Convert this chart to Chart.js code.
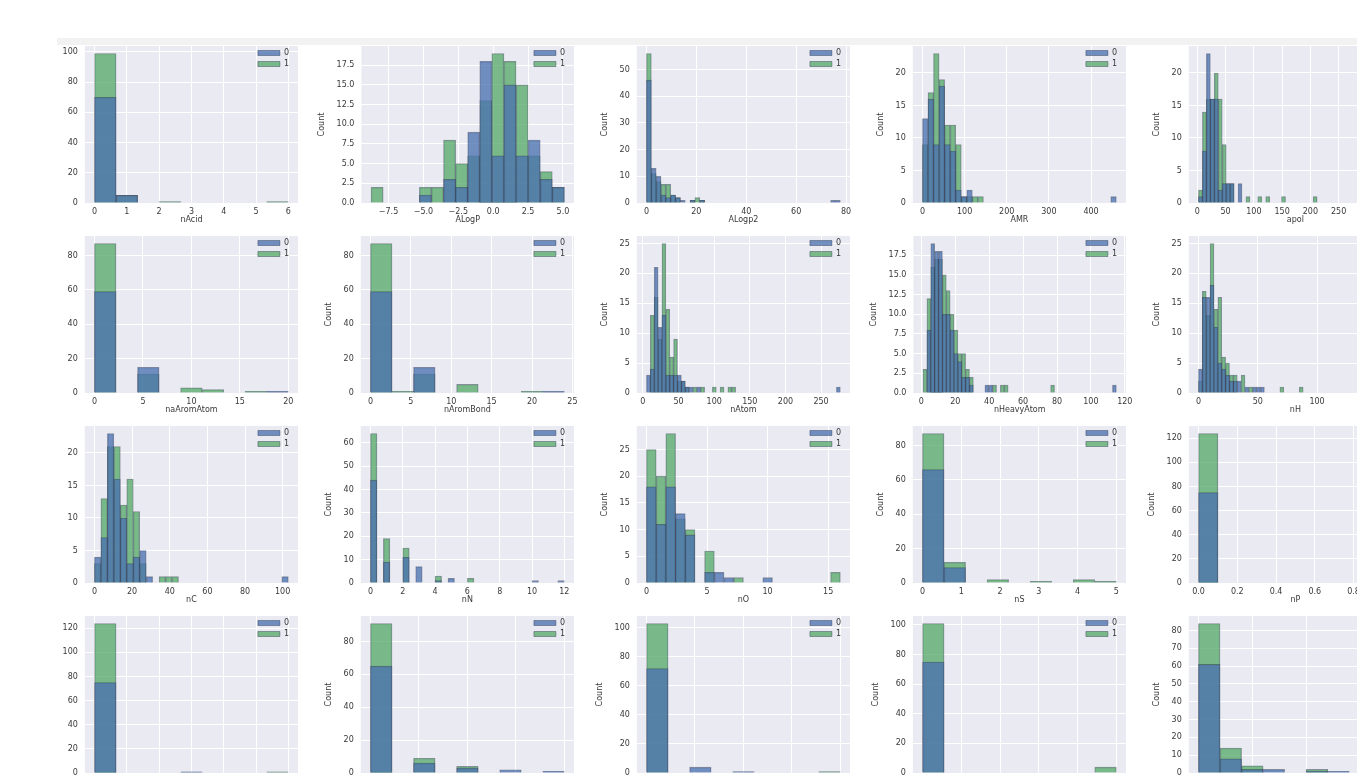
<!DOCTYPE html>
<html>
<head>
<meta charset="utf-8">
<script src="https://cdn.jsdelivr.net/npm/chart.js@4.4.1/dist/chart.umd.min.js"></script>
<style>
  html, body { margin: 0; padding: 0; background: #fff; width: 1357px; height: 775px; overflow: hidden; }
  #strip { position: absolute; left: 57px; top: 38px; width: 1300px; height: 7px; background: #f2f2f2; }
  #fig { position: absolute; left: 57px; top: 0; width: 1300px; height: 775px; overflow: hidden; }
  #fig canvas { position: absolute; }
</style>
</head>
<body>
<div id="strip"></div>
<div id="fig"></div>
<script>
// histogram bins: [first edge, last edge]; counts per bin for class 0 and class 1
const nAcidBins = [0, 6];
const nAcid0 = [70, 5, 0, 0, 0, 0, 0, 0, 0];
const nAcid1 = [99, 5, 0, 1, 0, 0, 0, 0, 1];

const ALogPBins = [-8.75, 5.1];
const ALogP0 = [0, 0, 0, 0, 1, 0, 3, 2, 9, 18, 6, 15, 6, 8, 3, 2];
const ALogP1 = [2, 0, 0, 0, 2, 2, 8, 5, 6, 13, 19, 18, 15, 6, 4, 2];

const ALogp2Bins = [0, 77.7];
const ALogp20 = [46, 13, 10, 3, 2, 3, 2, 1, 0, 1, 0, 1, 0, 0, 0, 0, 0, 0, 0, 0, 0, 0, 0, 0, 0, 0, 0, 0, 0, 0, 0, 0, 0, 0, 0, 0, 0, 0, 1, 1];
const ALogp21 = [56, 11, 8, 7, 7, 3, 2, 0, 0, 1, 2, 1, 0, 0, 0, 0, 0, 0, 0, 0, 0, 0, 0, 0, 0, 0, 0, 0, 0, 0, 0, 0, 0, 0, 0, 0, 0, 0, 0, 0];

const AMRBins = [0, 460];
const AMR0 = [13, 16, 9, 18, 9, 8, 2, 1, 2, 0, 0, 0, 0, 0, 0, 0, 0, 0, 0, 0, 0, 0, 0, 0, 0, 0, 0, 0, 0, 0, 0, 0, 0, 0, 1];
const AMR1 = [9, 17, 23, 19, 12, 12, 9, 1, 1, 1, 1, 0, 0, 0, 0, 0, 0, 0, 0, 0, 0, 0, 0, 0, 0, 0, 0, 0, 0, 0, 0, 0, 0, 0, 0];

const apolBins = [2, 345];
const apol0 = [1, 8, 23, 16, 16, 2, 3, 3, 3, 0, 3, 0, 0, 0, 0, 0, 0, 0, 0, 0, 0, 0, 0, 0, 0, 0, 0, 0, 0, 0, 0, 0, 0, 0, 0, 0, 0, 0, 0, 0, 0, 0, 0, 0, 0, 0, 0, 0, 1];
const apol1 = [2, 14, 16, 16, 20, 16, 9, 3, 3, 0, 0, 0, 1, 0, 0, 1, 0, 1, 0, 0, 0, 1, 0, 0, 0, 0, 0, 0, 0, 1, 0, 0, 0, 0, 0, 0, 0, 0, 0, 0, 0, 0, 0, 0, 0, 0, 0, 0, 0];

const naAromAtomBins = [0, 20];
const naAromAtom0 = [59, 0, 15, 0, 0, 0, 0, 0, 1];
const naAromAtom1 = [87, 0, 11, 0, 3, 2, 0, 1, 0];

const nAromBondBins = [0, 24];
const nAromBond0 = [59, 0, 15, 0, 0, 0, 0, 0, 1];
const nAromBond1 = [87, 1, 11, 0, 5, 0, 0, 1, 0];

const nAtomBins = [5, 277];
const nAtom0 = [3, 4, 21, 11, 13, 3, 3, 3, 3, 2, 1, 1, 0, 1, 0, 0, 0, 0, 0, 0, 0, 0, 0, 0, 0, 0, 0, 0, 0, 0, 0, 0, 0, 0, 0, 0, 0, 0, 0, 0, 0, 0, 0, 0, 0, 0, 0, 0, 0, 1];
const nAtom1 = [0, 13, 16, 9, 25, 14, 6, 9, 2, 2, 1, 0, 1, 0, 1, 0, 0, 1, 0, 1, 0, 1, 1, 0, 0, 0, 0, 0, 0, 0, 0, 0, 0, 0, 0, 0, 0, 0, 0, 0, 0, 0, 0, 0, 0, 0, 0, 0, 0, 0];

const nHeavyAtomBins = [1, 115];
const nHeavyAtom0 = [0, 8, 19, 18, 18, 10, 10, 8, 5, 4, 2, 2, 1, 0, 0, 0, 1, 1, 0, 0, 0, 0, 0, 0, 0, 0, 0, 0, 0, 0, 0, 0, 0, 0, 0, 0, 0, 0, 0, 0, 0, 0, 0, 0, 0, 0, 0, 0, 0, 1];
const nHeavyAtom1 = [3, 12, 16, 17, 17, 15, 13, 10, 8, 5, 5, 3, 2, 0, 0, 0, 0, 0, 1, 0, 1, 1, 0, 0, 0, 0, 0, 0, 0, 0, 0, 0, 0, 1, 0, 0, 0, 0, 0, 0, 0, 0, 0, 0, 0, 0, 0, 0, 0, 0];

const nHBins = [0, 163.5];
const nH0 = [4, 16, 16, 18, 11, 5, 4, 3, 2, 2, 2, 0, 1, 0, 1, 1, 1, 0, 0, 0, 0, 0, 0, 0, 0, 0, 0, 0, 0, 0, 0, 0, 0, 0, 0, 0, 0, 0, 0, 0, 0, 0, 0, 0, 0, 0, 0, 0, 0, 1];
const nH1 = [2, 17, 13, 25, 14, 16, 6, 5, 3, 3, 0, 3, 0, 1, 0, 0, 0, 0, 0, 0, 0, 1, 0, 0, 0, 0, 1, 0, 0, 0, 0, 0, 0, 0, 0, 0, 0, 0, 0, 0, 0, 0, 0, 0, 0, 0, 0, 0, 0, 0];

const nCBins = [0, 103];
const nC0 = [4, 7, 23, 16, 10, 3, 4, 5, 1, 0, 0, 0, 0, 0, 0, 0, 0, 0, 0, 0, 0, 0, 0, 0, 0, 0, 0, 0, 0, 1];
const nC1 = [3, 13, 21, 21, 12, 16, 11, 3, 0, 0, 1, 1, 1, 0, 0, 0, 0, 0, 0, 0, 0, 0, 0, 0, 0, 0, 0, 0, 0, 0];

const nNBins = [0, 12];
const nN0 = [44, 0, 9, 0, 0, 11, 0, 7, 0, 0, 1, 0, 2, 0, 0, 0, 0, 0, 0, 0, 0, 0, 0, 0, 0, 1, 0, 0, 0, 1];
const nN1 = [64, 0, 19, 0, 0, 15, 0, 0, 0, 0, 3, 0, 0, 0, 0, 2, 0, 0, 0, 0, 0, 0, 0, 0, 0, 0, 0, 0, 0, 0];

const nOBins = [0, 16];
const nO0 = [18, 11, 18, 13, 9, 0, 2, 2, 1, 0, 0, 0, 1, 0, 0, 0, 0, 0, 0, 0];
const nO1 = [25, 20, 28, 12, 10, 0, 6, 0, 0, 1, 0, 0, 0, 0, 0, 0, 0, 0, 0, 2];

const nSBins = [0, 5];
const nS0 = [66, 9, 0, 0, 0, 0, 0, 0, 0];
const nS1 = [87, 12, 0, 2, 0, 1, 0, 2, 1];

const nPBins = [0, 1];
const nP0 = [75, 0, 0, 0, 0, 0, 0, 0, 0, 0];
const nP1 = [124, 0, 0, 0, 0, 0, 0, 0, 0, 0];

// bottom row (axis names are below the visible area)
const r4aBins = [0, 6];
const r4a0 = [75, 0, 0, 0, 1, 0, 0, 0, 0];
const r4a1 = [124, 0, 0, 0, 0, 0, 0, 0, 1];
const r4bBins = [0, 4];
const r4b0 = [65, 0, 6, 0, 3, 0, 2, 0, 1];
const r4b1 = [91, 0, 9, 0, 4, 0, 0, 0, 0];
const r4cBins = [0, 4];
const r4c0 = [72, 0, 4, 0, 1, 0, 0, 0, 0];
const r4c1 = [103, 0, 0, 0, 0, 0, 0, 0, 1];
const r4dBins = [0, 1];
const r4d0 = [75, 0, 0, 0, 0, 0, 0, 0, 0];
const r4d1 = [101, 0, 0, 0, 0, 0, 0, 0, 4];
const r4eBins = [0, 18];
const r4e0 = [61, 8, 2, 2, 0, 1, 1, 0, 1];
const r4e1 = [84, 14, 4, 0, 0, 2, 0, 0, 0];

const varNames = ['nAcid', 'ALogP', 'ALogp2', 'AMR', 'apol',
                  'naAromAtom', 'nAromBond', 'nAtom', 'nHeavyAtom', 'nH',
                  'nC', 'nN', 'nO', 'nS', 'nP',
                  '', '', '', '', ''];
const xSteps = [1, 2.5, 20, 100, 50, 5, 5, 50, 20, 50, 20, 2, 5, 1, 0.2, 1, 1, 1, 0.2, 5];
const ySteps = [20, 2.5, 10, 5, 5, 20, 20, 5, 2.5, 5, 5, 10, 5, 20, 20, 20, 20, 20, 20, 10];

const binList = [nAcidBins, ALogPBins, ALogp2Bins, AMRBins, apolBins,
                 naAromAtomBins, nAromBondBins, nAtomBins, nHeavyAtomBins, nHBins,
                 nCBins, nNBins, nOBins, nSBins, nPBins,
                 r4aBins, r4bBins, r4cBins, r4dBins, r4eBins];
const class0 = [nAcid0, ALogP0, ALogp20, AMR0, apol0, naAromAtom0, nAromBond0, nAtom0, nHeavyAtom0, nH0,
                nC0, nN0, nO0, nS0, nP0, r4a0, r4b0, r4c0, r4d0, r4e0];
const class1 = [nAcid1, ALogP1, ALogp21, AMR1, apol1, naAromAtom1, nAromBond1, nAtom1, nHeavyAtom1, nH1,
                nC1, nN1, nO1, nS1, nP1, r4a1, r4b1, r4c1, r4d1, r4e1];

const BLUE = 'rgba(76,114,176,0.78)';
const GREEN = 'rgba(85,168,104,0.76)';
const EDGE = 'rgba(35,45,70,0.5)';
const PLOT_W = 213, PLOT_H = 157, AXIS_H = 22, PAD_T = 4, PAD_R = 12, FIG_LEFT = 57;

Chart.defaults.font.family = "'DejaVu Sans', sans-serif";
Chart.defaults.font.size = 8;
Chart.defaults.color = '#383838';

const plotBg = {
  id: 'plotBg',
  beforeDraw(chart) {
    const { ctx, chartArea: a } = chart;
    ctx.save();
    ctx.fillStyle = '#EAEAF2';
    ctx.fillRect(a.left, a.top, a.width, a.height);
    ctx.restore();
  }
};

// put the legend in the upper right corner of the plot
const legendInPlot = {
  id: 'legendInPlot',
  afterLayout(chart) {
    const lg = chart.legend, a = chart.chartArea;
    if (!lg) return;
    lg.left = a.right + 1 - lg.width;
    lg.right = a.right + 1;
    lg.top = a.top;
    lg.bottom = a.top + lg.height;
  }
};

function histData(bins, counts) {
  const w = (bins[1] - bins[0]) / counts.length;
  return counts.map((c, i) => ({ x: bins[0] + (i + 0.5) * w, y: c > 0 ? c : null }));
}

// ticks at whole multiples of the step, like matplotlib
function stepTicks(lo, hi, step) {
  const out = [];
  for (let n = Math.ceil(lo / step - 1e-9); n * step <= hi + 1e-9; n++) {
    out.push({ value: Math.round(n * step * 1e6) / 1e6 });
  }
  return out;
}

function fmt(step) {
  const d = step % 1 === 0 ? 0 : 1;
  return v => {
    const s = Math.abs(v).toFixed(d);
    return v < -1e-9 ? '\u2212' + s : s;
  };
}

const fig = document.getElementById('fig');
const gridOpts = { color: '#ffffff', lineWidth: 1, drawTicks: false, offset: false };

varNames.forEach((name, k) => {
  const r = Math.floor(k / 5), c = k % 5;
  const plotLeft = 85 + 276 * c, plotTop = 46 + 190 * r;
  const bins = binList[k];
  const span = bins[1] - bins[0];
  const xmin = bins[0] - 0.05 * span, xmax = bins[1] + 0.05 * span;
  const ymax = 1.05 * Math.max(...class0[k], ...class1[k]);
  const xs = xSteps[k], ys = ySteps[k];

  const canvas = document.createElement('canvas');
  canvas.width = 320;
  canvas.height = PAD_T + PLOT_H + AXIS_H;
  canvas.style.top = (plotTop - PAD_T) + 'px';
  fig.appendChild(canvas);

  const bar = { borderColor: EDGE, borderWidth: 0.8, barPercentage: 1, categoryPercentage: 1, grouped: false };

  const chart = new Chart(canvas, {
    type: 'bar',
    data: {
      datasets: [
        Object.assign({ label: '0', data: histData(bins, class0[k]), xAxisID: 'x', backgroundColor: BLUE, order: 0 }, bar),
        Object.assign({ label: '1', data: histData(bins, class1[k]), xAxisID: 'x2', backgroundColor: GREEN, order: 1 }, bar)
      ]
    },
    options: {
      responsive: false,
      maintainAspectRatio: false,
      animation: false,
      events: [],
      layout: { padding: { top: PAD_T, right: PAD_R, bottom: 0, left: 0 } },
      scales: {
        x: {
          type: 'linear', position: 'bottom', min: xmin, max: xmax, offset: false,
          grid: gridOpts, border: { display: false },
          ticks: { autoSkip: false, maxRotation: 0, padding: 4, callback: fmt(xs) },
          afterBuildTicks: s => { s.ticks = stepTicks(s.min, s.max, xs); },
          title: { display: name !== '', text: name, padding: 0 },
          afterFit: s => { s.height = AXIS_H; s.paddingLeft = 0; s.paddingRight = 0; }
        },
        x2: {
          type: 'linear', axis: 'x', position: 'bottom', display: false, min: xmin, max: xmax, offset: false,
          afterBuildTicks: s => { s.ticks = stepTicks(s.min, s.max, xs); }
        },
        y: {
          type: 'linear', position: 'left', min: 0, max: ymax,
          grid: gridOpts, border: { display: false },
          ticks: { padding: 7, callback: fmt(ys) },
          afterBuildTicks: s => { s.ticks = stepTicks(s.min, s.max, ys); },
          title: { display: true, text: 'Count', padding: { top: 2, bottom: 3 } },
          afterFit: s => { s.paddingTop = 0; s.paddingBottom = 0; }
        }
      },
      plugins: {
        legend: {
          position: 'chartArea', align: 'start',
          labels: { boxWidth: 22, boxHeight: 5, padding: 3, color: '#383838', font: { size: 8 } }
        },
        tooltip: { enabled: false }
      }
    },
    plugins: [plotBg, legendInPlot]
  });

  // fix the plot width and line the plot area up with the grid of panels
  const left = chart.chartArea.left;
  chart.resize(Math.round(left + PLOT_W + PAD_R), PAD_T + PLOT_H + AXIS_H);
  canvas.style.left = (plotLeft - FIG_LEFT - left) + 'px';
});
</script>
</body>
</html>
